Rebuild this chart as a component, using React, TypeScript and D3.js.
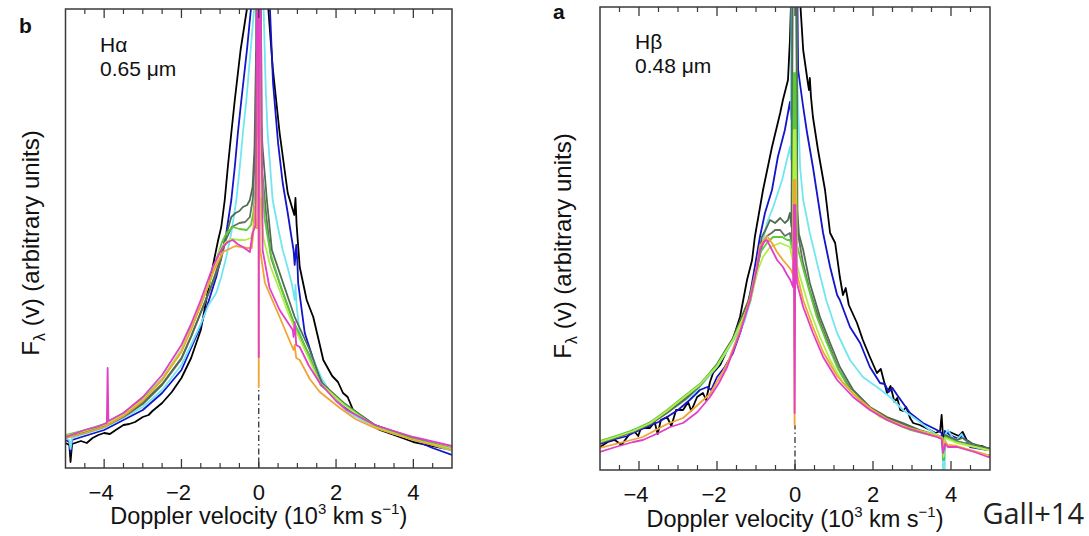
import React from "react";
import * as d3 from "d3";

type Pt = [number, number];

// ---------- axis values ----------
const X_DOMAIN: [number, number] = [-5, 5];
const X_MAJOR = [-4, -2, 0, 2, 4];
const X_LABELS = ["\u22124", "\u22122", "0", "2", "4"];
const X_MINOR = [-4.5, -3.5, -3, -2.5, -1.5, -1, -0.5, 0.5, 1, 1.5, 2.5, 3, 3.5, 4.5];

// ---------- H-alpha panel (b) : [velocity (10^3 km/s), flux] ----------
const HA_BLACK: Pt[] = [
  [-5.0, 2.5], [-4.9, 2.3], [-4.87, 0.6], [-4.83, 2.4], [-4.6, 2.7], [-4.45, 2.5], [-4.3, 3.0], [-4.15, 3.3],
  [-4.0, 3.5], [-3.85, 3.4], [-3.7, 3.8], [-3.5, 4.3], [-3.35, 4.4], [-3.2, 4.6], [-3.0, 5.1], [-2.85, 5.3],
  [-2.75, 5.7], [-2.5, 6.5], [-2.25, 7.6], [-2.0, 9.0], [-1.75, 11.0], [-1.5, 13.8], [-1.31, 17.8],
  [-1.14, 21.1], [-1.05, 22.8], [-0.97, 24.1], [-0.88, 26.8], [-0.8, 30.1], [-0.71, 33.5], [-0.62, 36.8],
  [-0.47, 41.8], [-0.31, 45.8], [-0.15, 55], [0, 70], [0.15, 52], [0.23, 46.8], [0.36, 40.1], [0.54, 33.5],
  [0.75, 27.5], [0.92, 25.3], [0.95, 27.0], [0.98, 24.3], [1.06, 20.1], [1.24, 16.8], [1.41, 15.1],
  [1.55, 12.8], [1.67, 10.8], [1.9, 9.2], [2.05, 8.6], [2.18, 7.5], [2.3, 7.1], [2.44, 5.8], [2.8, 4.6],
  [3.13, 3.8], [3.5, 3.3], [4.0, 2.6], [4.5, 2.2], [5.0, 1.8],
];
const HA_BLUE: Pt[] = [
  [-5.0, 2.8], [-4.9, 2.6], [-4.87, 1.6], [-4.83, 2.8], [-4.5, 3.2], [-4.0, 3.8], [-3.5, 4.8], [-3.0, 5.8],
  [-2.5, 7.5], [-2.0, 9.8], [-1.75, 12.0], [-1.5, 14.2], [-1.23, 17.5], [-1.1, 19.1], [-0.97, 21.1],
  [-0.84, 23.5], [-0.71, 26.8], [-0.62, 30.1], [-0.54, 33.5], [-0.45, 36.8], [-0.3, 42], [-0.18, 46.8],
  [0, 70], [0.2, 50], [0.28, 46.8], [0.37, 38.5], [0.5, 32.5], [0.62, 28.5], [0.75, 25.5], [0.85, 23.0],
  [0.9, 21.8], [0.93, 20.3], [0.97, 22.3], [1.0, 20.5], [1.02, 18.5], [1.19, 13.5], [1.4, 11.0],
  [1.58, 9.1], [1.85, 7.6], [2.1, 6.5], [2.44, 5.5], [3.0, 4.3], [3.5, 3.6], [4.0, 2.8], [4.5, 2.0], [5.0, 1.3],
];
const HA_CYAN: Pt[] = [
  [-5.0, 3.0], [-4.9, 2.8], [-4.87, 1.9], [-4.83, 3.0], [-4.5, 3.4], [-4.0, 4.0], [-3.5, 5.0], [-3.0, 6.1],
  [-2.5, 7.8], [-2.0, 10.3], [-1.75, 12.3], [-1.5, 14.4], [-1.3, 16.3], [-1.1, 17.5], [-0.97, 19.1],
  [-0.84, 21.1], [-0.71, 23.5], [-0.58, 26.8], [-0.49, 30.1], [-0.41, 33.5], [-0.32, 36.8], [-0.1, 46.8],
  [0, 70], [0.12, 46.8], [0.18, 38], [0.23, 33.5], [0.36, 26.8], [0.5, 24.0], [0.62, 21.8], [0.75, 20.0],
  [0.85, 18.5], [0.9, 17.5], [0.93, 16.8], [0.95, 18.3], [0.98, 16.2], [1.06, 13.5], [1.2, 12.0],
  [1.41, 10.8], [1.65, 8.8], [1.92, 7.1], [2.3, 5.6], [2.8, 4.5], [3.5, 3.4], [4.0, 2.9], [4.5, 2.3], [5.0, 1.7],
];
const HA_OLIVE2: Pt[] = [
  [-5.0, 3.0], [-4.5, 3.5], [-4.0, 4.1], [-3.5, 5.1], [-3.0, 6.4], [-2.5, 8.3], [-2.0, 10.9], [-1.75, 13.1],
  [-1.5, 15.5], [-1.25, 17.9], [-1.0, 20.5], [-0.85, 22.8], [-0.7, 24.1], [-0.6, 24.3], [-0.5, 24.5],
  [-0.35, 24.6], [-0.23, 25.1], [-0.15, 27], [-0.08, 33], [-0.04, 70], [0.02, 70], [0.08, 30], [0.2, 25],
  [0.32, 21], [0.6, 17.8], [0.9, 14.6], [1.3, 11.3], [1.6, 8.3], [2.2, 6.4], [3.0, 4.3], [4.0, 3.0], [5.0, 1.9],
];
const HA_OLIVE1: Pt[] = [
  [-5.0, 3.1], [-4.5, 3.6], [-4.0, 4.2], [-3.5, 5.2], [-3.0, 6.5], [-2.5, 8.4], [-2.0, 11.0], [-1.75, 13.2],
  [-1.5, 15.6], [-1.25, 18.0], [-1.0, 20.8], [-0.85, 23.2], [-0.71, 25.1], [-0.6, 25.5], [-0.5, 25.7],
  [-0.41, 26.1], [-0.3, 26.3], [-0.23, 26.8], [-0.16, 28.1], [-0.11, 32], [-0.07, 41.6], [-0.04, 33],
  [0.04, 36], [0.1, 32], [0.21, 26.8], [0.34, 21.8], [0.63, 18.5], [0.93, 15.1], [1.32, 11.8], [1.63, 8.5],
  [2.2, 6.5], [3.0, 4.3], [4.0, 3.0], [5.0, 1.9],
];
const HA_GREEN: Pt[] = [
  [-5.0, 3.3], [-4.5, 3.8], [-4.0, 4.4], [-3.5, 5.5], [-3.0, 6.9], [-2.5, 8.9], [-2.0, 11.8], [-1.75, 14.0],
  [-1.5, 16.3], [-1.25, 18.8], [-1.1, 20.8], [-0.95, 22.6], [-0.83, 23.5], [-0.67, 24.1], [-0.5, 23.9],
  [-0.31, 23.8], [-0.2, 24.3], [-0.14, 25.5], [-0.09, 28], [-0.05, 33], [-0.02, 70], [0.02, 40],
  [0.08, 30], [0.15, 25], [0.3, 21.5], [0.54, 18.5], [0.85, 15.1], [1.24, 11.8], [1.58, 8.5], [2.2, 6.4],
  [3.0, 4.2], [4.0, 2.9], [5.0, 2.0],
];
const HA_YGREEN: Pt[] = [
  [-5.0, 3.2], [-4.5, 3.7], [-4.0, 4.3], [-3.5, 5.4], [-3.0, 6.8], [-2.5, 8.8], [-2.0, 11.8], [-1.75, 14.0],
  [-1.5, 16.3], [-1.25, 18.8], [-1.0, 21.8], [-0.85, 22.6], [-0.7, 22.9], [-0.5, 22.8], [-0.35, 22.8],
  [-0.2, 23.0], [-0.14, 23.8], [-0.08, 27], [-0.04, 32.8], [-0.01, 26], [0.05, 27], [0.12, 23], [0.3, 20.2],
  [0.47, 18.5], [0.8, 15.1], [1.19, 11.8], [1.58, 8.5], [2.2, 6.3], [3.0, 4.1], [4.0, 2.8], [5.0, 1.9],
];
const HA_ORANGE: Pt[] = [
  [-5.0, 3.0], [-4.5, 3.5], [-4.0, 4.1], [-3.5, 5.2], [-3.0, 6.7], [-2.5, 8.8], [-2.0, 11.6], [-1.75, 13.8],
  [-1.5, 16.3], [-1.19, 19.5], [-0.93, 21.6], [-0.6, 22.2], [-0.3, 22.0], [-0.18, 22.0], [-0.14, 23.5],
  [-0.11, 26.1], [-0.07, 24], [-0.02, 24], [-0.005, 60], [0, 8.1], [0.005, 60], [0.03, 22], [0.16, 18.5],
  [0.54, 15.1], [0.9, 11.8], [0.93, 12.3], [0.97, 11.0], [1.06, 10.8], [1.32, 8.9], [1.58, 7.6],
  [2.1, 6.0], [2.5, 4.9], [3.0, 4.0], [4.0, 2.8], [5.0, 1.8],
];
const HA_MAGENTA: Pt[] = [
  [-5.0, 3.1], [-4.5, 3.8], [-4.2, 4.1], [-3.93, 4.5], [-3.91, 10.0], [-3.89, 4.7], [-3.5, 5.5],
  [-3.0, 7.1], [-2.5, 9.3], [-2.0, 12.3], [-1.75, 14.4], [-1.5, 16.8], [-1.35, 18.4], [-1.19, 20.1],
  [-1.05, 21.2], [-0.93, 22.1], [-0.8, 22.6], [-0.67, 22.8], [-0.55, 22.4], [-0.41, 22.1], [-0.3, 21.8],
  [-0.23, 21.6], [-0.16, 23.5], [-0.08, 24.3], [-0.01, 70], [0, 11.1], [0.01, 70], [0.1, 21.8],
  [0.28, 18.0], [0.54, 15.8], [0.88, 13.8], [0.9, 13.1], [0.93, 14.6], [0.97, 12.3], [1.06, 12.1],
  [1.3, 10.2], [1.58, 8.5], [2.0, 6.7], [2.28, 5.8], [3.0, 4.3], [4.0, 3.1], [5.0, 2.2],
];

// ---------- H-beta panel (a) ----------
const HB_BLACK: Pt[] = [
  [-5.0, 2.3], [-4.8, 2.8], [-4.62, 3.0], [-4.45, 2.5], [-4.3, 3.3], [-4.15, 4.0], [-4.02, 3.4], [-3.95, 4.2],
  [-3.72, 4.2], [-3.6, 4.8], [-3.52, 3.6], [-3.44, 5.0], [-3.28, 5.3], [-3.17, 4.4], [-3.05, 6.0],
  [-2.87, 6.0], [-2.74, 6.8], [-2.66, 5.9], [-2.51, 7.3], [-2.36, 7.7], [-2.28, 7.0], [-2.18, 8.8],
  [-2.1, 9.7], [-1.92, 10.5], [-1.74, 12.0], [-1.6, 13.0], [-1.41, 15.3], [-1.23, 19.0], [-1.1, 21.0],
  [-1.03, 23.3], [-0.82, 28.0], [-0.59, 32.3], [-0.38, 35.7], [-0.31, 37.0], [-0.18, 39.0], [-0.13, 43],
  [-0.1, 47], [0, 70], [0.13, 47], [0.21, 42.0], [0.33, 38.7], [0.36, 38.0], [0.38, 39.2], [0.41, 37.3],
  [0.46, 35.3], [0.59, 32.0], [0.77, 28.0], [0.9, 23.7], [1.03, 22.7], [1.15, 19.3], [1.23, 17.5],
  [1.3, 18.2], [1.38, 16.5], [1.59, 14.7], [1.74, 13.0], [1.92, 11.3], [2.1, 9.7], [2.2, 10.1],
  [2.36, 7.7], [2.45, 8.4], [2.55, 6.8], [2.62, 7.2], [2.7, 6.0], [2.77, 5.9], [2.85, 6.3], [2.95, 5.2],
  [3.03, 4.7], [3.2, 4.5], [3.46, 4.0], [3.6, 3.7], [3.72, 3.9], [3.76, 5.5], [3.79, 3.6], [3.83, 3.0],
  [3.87, 3.8], [3.97, 3.8], [4.2, 3.4], [4.3, 3.8], [4.4, 3.0], [4.67, 2.3], [4.8, 2.4], [5.0, 2.0],
];
const HB_BLUE: Pt[] = [
  [-5.0, 2.6], [-4.6, 3.1], [-4.3, 3.4], [-4.15, 3.7], [-3.8, 4.3], [-3.5, 4.8], [-3.28, 5.3], [-3.0, 6.0],
  [-2.7, 7.0], [-2.44, 8.0], [-2.25, 8.3], [-2.15, 8.0], [-2.0, 9.3], [-1.8, 10.3], [-1.59, 11.7],
  [-1.4, 13.8], [-1.2, 16.5], [-1.03, 20.3], [-0.9, 23.3], [-0.77, 25.7], [-0.59, 28.0], [-0.44, 31.3],
  [-0.26, 34.0], [-0.13, 36.8], [-0.09, 35], [-0.06, 70], [0.0, 70], [0.08, 40], [0.21, 36.3],
  [0.31, 33.7], [0.46, 30.3], [0.59, 27.0], [0.72, 23.7], [0.9, 20.3], [1.08, 17.5], [1.15, 17.0],
  [1.41, 14.3], [1.67, 12.7], [1.92, 10.3], [2.18, 8.7], [2.3, 8.6], [2.4, 7.8], [2.5, 8.2], [2.62, 7.5],
  [2.95, 5.7], [3.28, 4.7], [3.64, 4.0], [3.76, 3.7], [3.8, 1.0], [3.84, 3.9], [3.97, 3.5], [4.2, 3.1],
  [4.3, 3.5], [4.49, 2.3], [4.95, 2.0], [5.0, 2.0],
];
const HB_CYAN: Pt[] = [
  [-5.0, 2.8], [-4.6, 3.3], [-4.2, 3.9], [-3.8, 4.6], [-3.4, 5.5], [-3.0, 6.5], [-2.6, 7.6], [-2.44, 8.3],
  [-2.0, 10.3], [-1.6, 12.8], [-1.3, 14.8], [-1.15, 16.8], [-0.97, 20.3], [-0.85, 22.3], [-0.72, 24.7],
  [-0.56, 26.3], [-0.33, 29.0], [-0.13, 32.3], [-0.1, 31], [-0.08, 70], [-0.03, 70], [0.05, 40],
  [0.13, 30.3], [0.21, 27.0], [0.38, 23.7], [0.59, 20.3], [0.8, 17.0], [1.08, 13.7], [1.41, 11.0],
  [1.74, 9.3], [2.1, 8.3], [2.44, 7.3], [2.77, 6.0], [3.13, 5.0], [3.46, 4.0], [3.64, 3.5], [3.78, 3.2],
  [3.8, -1], [3.83, -1], [3.86, 3.6], [3.92, 4.0], [4.05, 3.2], [4.15, 3.0], [4.27, 3.6], [4.35, 3.0],
  [4.49, 2.7], [4.95, 2.0], [5.0, 2.0],
];
const HB_OLIVE2: Pt[] = [
  [-5.0, 2.7], [-4.6, 3.2], [-4.15, 3.8], [-3.7, 4.6], [-3.28, 5.7], [-2.8, 7.1], [-2.44, 8.4], [-2.0, 10.5],
  [-1.59, 13.1], [-1.2, 16.8], [-0.98, 20.0], [-0.85, 22.4], [-0.72, 23.4], [-0.6, 23.7], [-0.51, 24.0],
  [-0.38, 24.0], [-0.26, 23.4], [-0.13, 23.7], [-0.08, 22.5], [-0.05, 70], [0.01, 70], [0.06, 24],
  [0.2, 20.8], [0.36, 18.2], [0.62, 15.0], [0.88, 12.4], [1.13, 10.0], [1.47, 7.8], [1.9, 6.2], [2.36, 5.2],
  [2.77, 4.6], [3.2, 3.9], [3.64, 3.4], [3.78, 3.2], [3.81, 1.2], [3.85, 3.4], [4.15, 2.9], [4.95, 2.1], [5.0, 2.1],
];
const HB_OLIVE1: Pt[] = [
  [-5.0, 2.8], [-4.6, 3.3], [-4.15, 3.9], [-3.7, 4.7], [-3.28, 5.8], [-2.8, 7.2], [-2.44, 8.5], [-2.0, 10.6],
  [-1.59, 13.2], [-1.2, 16.9], [-1.0, 20.0], [-0.85, 23.3], [-0.72, 24.3], [-0.64, 25.0], [-0.51, 24.7],
  [-0.38, 25.2], [-0.26, 24.7], [-0.18, 25.0], [-0.13, 25.7], [-0.09, 24.3], [-0.04, 70], [0.02, 70],
  [0.06, 26], [0.1, 23.6], [0.21, 22.0], [0.38, 18.7], [0.64, 15.3], [0.9, 12.7], [1.15, 10.3], [1.49, 8.0],
  [1.92, 6.3], [2.36, 5.3], [2.77, 4.7], [3.2, 4.0], [3.64, 3.5], [3.78, 3.3], [3.81, 1.0], [3.85, 3.5],
  [4.15, 3.0], [4.3, 3.2], [4.5, 2.7], [4.95, 2.2], [5.0, 2.2],
];
const HB_GREEN: Pt[] = [
  [-5.0, 2.9], [-4.6, 3.4], [-4.15, 4.0], [-3.7, 4.8], [-3.28, 6.0], [-2.8, 7.5], [-2.44, 8.6], [-2.0, 10.5],
  [-1.59, 13.0], [-1.15, 16.8], [-0.97, 20.2], [-0.9, 21.7], [-0.72, 22.7], [-0.56, 23.3], [-0.33, 23.3],
  [-0.2, 23.0], [-0.13, 23.0], [-0.06, 22.0], [-0.03, 39.7], [-0.01, 12], [0.01, 39.7], [0.05, 22.5],
  [0.13, 21.3], [0.31, 18.7], [0.56, 15.3], [0.82, 12.7], [1.08, 10.3], [1.41, 8.0], [1.85, 6.3],
  [2.36, 5.0], [2.95, 4.0], [3.64, 3.3], [3.78, 3.1], [3.81, 1.0], [3.85, 3.3], [4.15, 2.8], [4.95, 2.0], [5.0, 2.0],
];
const HB_YGREEN: Pt[] = [
  [-5.0, 2.8], [-4.6, 3.3], [-4.15, 3.9], [-3.7, 4.7], [-3.28, 5.9], [-2.8, 7.4], [-2.44, 8.5], [-2.0, 10.4],
  [-1.59, 13.0], [-1.15, 16.8], [-0.95, 20.0], [-0.82, 21.3], [-0.64, 22.3], [-0.38, 22.7], [-0.13, 22.3],
  [-0.06, 21.0], [-0.03, 34], [-0.01, 15], [0.01, 34], [0.05, 20.5], [0.13, 19.3], [0.38, 16.0],
  [0.64, 13.3], [0.9, 11.0], [1.23, 8.7], [1.67, 7.0], [2.18, 5.3], [2.77, 4.3], [3.64, 3.5], [3.78, 3.2],
  [3.81, 1.3], [3.85, 3.2], [4.15, 2.7], [4.95, 2.0], [5.0, 2.0],
];
const HB_ORANGE: Pt[] = [
  [-5.0, 2.2], [-4.6, 2.6], [-3.9, 3.3], [-3.28, 4.6], [-2.87, 5.2], [-2.18, 7.6], [-1.74, 10.6],
  [-1.41, 14.0], [-1.15, 17.2], [-0.97, 20.6], [-0.9, 22.4], [-0.72, 23.4], [-0.59, 22.7], [-0.46, 21.8],
  [-0.31, 21.0], [-0.2, 20.5], [-0.1, 20.0], [-0.05, 19.5], [-0.03, 29], [-0.01, 4.5], [0.01, 29],
  [0.04, 19.8], [0.21, 17.0], [0.46, 14.3], [0.72, 11.8], [1.08, 9.4], [1.49, 7.6], [1.92, 6.2],
  [2.36, 5.1], [2.77, 4.4], [3.2, 3.9], [3.64, 3.4], [3.78, 3.2], [3.81, 2.0], [3.86, 2.8], [3.92, 2.5],
  [4.15, 2.4], [4.95, 1.5], [5.0, 1.5],
];
const HB_MAGENTA: Pt[] = [
  [-5.0, 1.8], [-4.6, 2.3], [-4.15, 2.8], [-3.9, 3.0], [-3.5, 3.7], [-3.2, 4.3], [-2.87, 4.7], [-2.5, 5.8],
  [-2.18, 7.3], [-1.95, 8.7], [-1.74, 10.3], [-1.41, 13.7], [-1.15, 17.0], [-0.97, 20.3], [-0.9, 22.0],
  [-0.8, 22.8], [-0.72, 23.0], [-0.59, 22.0], [-0.46, 21.0], [-0.31, 20.3], [-0.2, 19.5], [-0.12, 19.0],
  [-0.05, 18.3], [-0.03, 26.5], [-0.01, 5.7], [0.01, 26.5], [0.05, 18.7], [0.21, 16.3], [0.46, 13.7],
  [0.72, 11.3], [1.08, 9.0], [1.49, 7.3], [1.92, 6.0], [2.36, 5.0], [2.77, 4.3], [3.2, 3.8], [3.64, 3.3],
  [3.76, 3.1], [3.8, 1.7], [3.85, 2.6], [3.92, 2.3], [4.15, 2.3], [4.6, 1.8], [4.95, 1.3], [5.0, 1.3],
];

// rest-velocity dash-dot marker: [velocity, lower flux, upper flux]
const HA_REST: [number, number, number] = [0, 0, 8.1];
const HB_REST: [number, number, number] = [0, 0, 4.5];

const COLORS = ["#000000", "#1414c8", "#72e6f0", "#66705e", "#4f6e4f", "#5cc83c", "#b2ee48", "#f0a434", "#e23ec6"];
const HA_SERIES = [HA_BLACK, HA_BLUE, HA_CYAN, HA_OLIVE2, HA_OLIVE1, HA_GREEN, HA_YGREEN, HA_ORANGE, HA_MAGENTA];
const HB_SERIES = [HB_BLACK, HB_BLUE, HB_CYAN, HB_OLIVE2, HB_OLIVE1, HB_GREEN, HB_YGREEN, HB_ORANGE, HB_MAGENTA];

const FONT = "'Liberation Sans', Arial, Helvetica, sans-serif";

type PanelProps = {
  id: string;
  x0: number; x1: number; yT: number; yB: number; fMax: number;
  series: Pt[][];
  rest: [number, number, number];
  letter: string; letterX: number; letterY: number;
  line1: string; line2: string; textX: number; text1Y: number; text2Y: number;
  ylabX: number; ylabY: number; xlabY: number; tickY: number;
};

function Panel(p: PanelProps) {
  const x = d3.scaleLinear().domain(X_DOMAIN).range([p.x0, p.x1]);
  const y = d3.scaleLinear().domain([0, p.fMax]).range([p.yB, p.yT]);
  const line = d3.line<Pt>().x((d) => x(d[0])).y((d) => y(d[1]));
  const clipId = `clip-${p.id}`;
  const cx = (p.x0 + p.x1) / 2;
  return (
    <g>
      <defs>
        <clipPath id={clipId}>
          <rect x={p.x0} y={p.yT} width={p.x1 - p.x0} height={p.yB - p.yT} />
        </clipPath>
      </defs>
      <g clipPath={`url(#${clipId})`}>
        <line x1={x(p.rest[0])} x2={x(p.rest[0])} y1={y(p.rest[1])} y2={y(p.rest[2])}
          stroke="#222" strokeWidth={1.2} strokeDasharray="6 3 1.5 3" />
        {p.series.map((s, i) => (
          <path key={i} d={line(s) || ""} fill="none" stroke={COLORS[i]} strokeWidth={1.8}
            strokeLinejoin="round" />
        ))}
      </g>
      <rect x={p.x0} y={p.yT} width={p.x1 - p.x0} height={p.yB - p.yT} fill="none" stroke="#3a3a3a" strokeWidth={1.5} />
      {X_MAJOR.map((t) => (
        <g key={"M" + t}>
          <line x1={x(t)} x2={x(t)} y1={p.yB} y2={p.yB - 9} stroke="#3a3a3a" strokeWidth={1.3} />
          <line x1={x(t)} x2={x(t)} y1={p.yT} y2={p.yT + 9} stroke="#3a3a3a" strokeWidth={1.3} />
        </g>
      ))}
      {X_MINOR.map((t) => (
        <g key={"m" + t}>
          <line x1={x(t)} x2={x(t)} y1={p.yB} y2={p.yB - 5} stroke="#3a3a3a" strokeWidth={1.2} />
          <line x1={x(t)} x2={x(t)} y1={p.yT} y2={p.yT + 5} stroke="#3a3a3a" strokeWidth={1.2} />
        </g>
      ))}
      {X_MAJOR.map((t, i) => (
        <text key={"l" + t} x={x(t) - (X_LABELS[i].length > 1 ? 3 : 0)} y={p.tickY} textAnchor="middle"
          fontFamily={FONT} fontSize={22} fill="#111">{X_LABELS[i]}</text>
      ))}
      <text x={cx} y={p.xlabY} textAnchor="middle" fontFamily={FONT} fontSize={23.5} fill="#111">
        Doppler velocity (10<tspan dy={-10} fontSize={15}>3</tspan><tspan dy={10}> km s</tspan>
        <tspan dy={-10} fontSize={15}>{"\u22121"}</tspan><tspan dy={10}>)</tspan>
      </text>
      <text transform={`translate(${p.ylabX},${p.ylabY}) rotate(-90)`} textAnchor="middle" fontFamily={FONT}
        fontSize={24} fill="#111">
        F<tspan dy={6} fontSize={16}>{"\u03bb"}</tspan><tspan dy={-6}> (v) (arbitrary units)</tspan>
      </text>
      <text x={p.letterX} y={p.letterY} fontFamily={FONT} fontWeight="bold" fontSize={21} fill="#111">{p.letter}</text>
      <text x={p.textX} y={p.text1Y} fontFamily={FONT} fontSize={21} fill="#111">{p.line1}</text>
      <text x={p.textX} y={p.text2Y} fontFamily={FONT} fontSize={21} fill="#111">{p.line2}</text>
    </g>
  );
}

export default function App() {
  return (
    <svg width={1089} height={536} viewBox="0 0 1089 536"
      style={{ position: "absolute", left: 0, top: 0, background: "#fff", display: "block" }}>
      <rect x={0} y={0} width={1089} height={536} fill="#fff" />
      <Panel id="ha" x0={65.5} x1={452} yT={9} yB={468} fMax={45.9} series={HA_SERIES} rest={HA_REST}
        letter="b" letterX={19} letterY={33} line1={"H\u03b1"} line2={"0.65 \u03bcm"} textX={100}
        text1Y={52} text2Y={76} ylabX={39} ylabY={243} xlabY={524} tickY={500} />
      <Panel id="hb" x0={600} x1={990} yT={7} yB={470} fMax={46.3} series={HB_SERIES} rest={HB_REST}
        letter="a" letterX={553} letterY={19} line1={"H\u03b2"} line2={"0.48 \u03bcm"} textX={635}
        text1Y={49} text2Y={73} ylabX={571} ylabY={246} xlabY={527} tickY={502} />
      <text x={1084} y={524} textAnchor="end" fontFamily="'Open Sans', 'Noto Sans', sans-serif" fontSize={29}
        fill="#222">Gall+14</text>
    </svg>
  );
}
